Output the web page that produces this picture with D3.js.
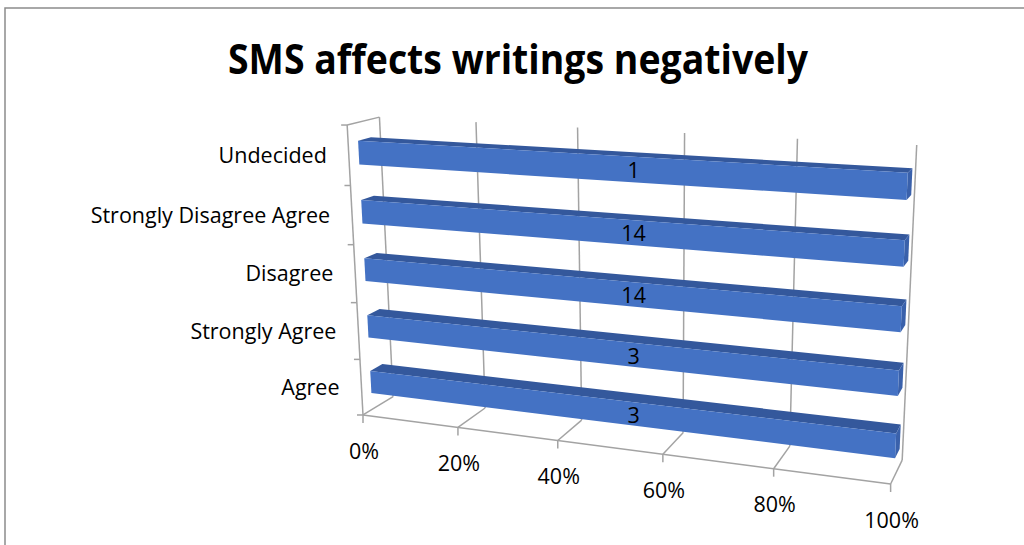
<html>
<head>
<meta charset="utf-8">
<style>
  body { margin: 0; background: #fff; }
  text { font-family: "Open Sans", Lato, "Liberation Sans", sans-serif; fill: #000; }
</style>
</head>
<body>
<svg id="chart" width="1024" height="545"></svg>
<script src="https://cdn.jsdelivr.net/npm/d3@7"></script>
<script>
// data (bottom to top, as Excel stacks the category axis)
const categories = ["Agree", "Strongly Agree", "Disagree", "Strongly Disagree Agree", "Undecided"];
const counts = [3, 3, 14, 14, 1];
const shares = [1, 1, 1, 1, 1]; // 100% stacked with one series: every bar fills the axis
const xTicks = [0, 0.2, 0.4, 0.6, 0.8, 1];

// perspective box: unit cube corners (value, category, depth) -> screen
const anchors = [
  [0, 1, 0, 347, 125], [0, 0, 0, 363, 414], [0, 1, 1, 379, 117], [0, 0, 1, 393, 397],
  [1, 1, 1, 917, 145], [1, 0, 1, 902, 460], [1, 0, 0, 891, 483],
  [0.2, 0, 0, 458, 428], [0.4, 0, 0, 558, 441], [0.6, 0, 0, 662, 455], [0.8, 0, 0, 774, 469],
  [0.2, 1, 1, 477, 122], [0.4, 1, 1, 578, 127], [0.6, 1, 1, 684, 133], [0.8, 1, 1, 797, 139],
  [0, 0.2, 0, 360, 358], [0, 0.4, 0, 357, 303], [0, 0.6, 0, 354, 245], [0, 0.8, 0, 350, 186]
];

// fit a 3x4 camera matrix (DLT, least squares)
function fitCamera(pts) {
  const A = [], b = [];
  pts.forEach(([X, Y, Z, u0, v0]) => {
    const u = (u0 - 640) / 300, v = (v0 - 300) / 300;
    A.push([X, Y, Z, 1, 0, 0, 0, 0, -u * X, -u * Y, -u * Z]); b.push(u);
    A.push([0, 0, 0, 0, X, Y, Z, 1, -v * X, -v * Y, -v * Z]); b.push(v);
  });
  const n = 11;
  const M = d3.range(n).map(i => {
    const row = d3.range(n).map(j => d3.sum(A, r => r[i] * r[j]));
    row.push(d3.sum(A, (r, k) => r[i] * b[k]));
    return row;
  });
  for (let c = 0; c < n; c++) {
    let p = c;
    for (let r = c + 1; r < n; r++) if (Math.abs(M[r][c]) > Math.abs(M[p][c])) p = r;
    [M[c], M[p]] = [M[p], M[c]];
    for (let r = c + 1; r < n; r++) {
      const f = M[r][c] / M[c][c];
      for (let k = c; k <= n; k++) M[r][k] -= f * M[c][k];
    }
  }
  const x = new Array(n).fill(0);
  for (let r = n - 1; r >= 0; r--) {
    let s = M[r][n];
    for (let k = r + 1; k < n; k++) s -= M[r][k] * x[k];
    x[r] = s / M[r][r];
  }
  return x;
}
const cam = fitCamera(anchors);
function proj(X, Y, Z) {
  const w = cam[8] * X + cam[9] * Y + cam[10] * Z + 1;
  const u = (cam[0] * X + cam[1] * Y + cam[2] * Z + cam[3]) / w;
  const v = (cam[4] * X + cam[5] * Y + cam[6] * Z + cam[7]) / w;
  return [u * 300 + 640, v * 300 + 300];
}

const svg = d3.select("#chart");
const x = d3.scaleLinear().domain([0, 1]).range([0, 1]);
const y = d3.scaleBand().domain(categories).range([0, 1]).paddingInner(0.6).paddingOuter(0.3);
const zFront = 0.3, zBack = 0.7;
const line = d3.line();
const poly = pts => line(pts.map(p => proj(...p))) + "Z";
const gridColor = "#a3a3a3";
const fontSize = 21.5;

// chart area border
svg.append("path").attr("d", "M5,545V8H1024").attr("fill", "none")
  .attr("stroke", "#8c8c8c").attr("stroke-width", 1.5);

svg.append("text").attr("x", 518).attr("y", 74).attr("text-anchor", "middle")
  .attr("font-family", "Lato, 'Open Sans', sans-serif")
  .attr("font-size", 41).attr("font-weight", "bold")
  .attr("textLength", 580).attr("lengthAdjust", "spacingAndGlyphs")
  .text("SMS affects writings negatively");

// walls and gridlines
const grid = svg.append("g").attr("fill", "none").attr("stroke", gridColor).attr("stroke-width", 1.5);
xTicks.forEach(t => {
  grid.append("path").attr("d", line([proj(x(t), 0, 1), proj(x(t), 1, 1)]));
  grid.append("path").attr("d", line([proj(x(t), 0, 0), proj(x(t), 0, 1)]));
});
grid.append("path").attr("d", line([proj(0, 1, 0), proj(0, 1, 1)]));
grid.append("path").attr("d", line([proj(0, 0, 0), proj(0, 1, 0)]));
grid.append("path").attr("d", line([proj(0, 0, 0), proj(1, 0, 0)]));

// category axis ticks and labels
d3.range(categories.length + 1).forEach(i => {
  const [px, py] = proj(0, i / categories.length, 0);
  grid.append("path").attr("d", line([[px - 6, py], [px, py]]));
});
svg.append("g").selectAll("text").data(categories).join("text")
  .attr("x", d => proj(0, y(d) + y.bandwidth() / 2, 0)[0] - 22)
  .attr("y", d => proj(0, y(d) + y.bandwidth() / 2, 0)[1])
  .attr("dy", "0.35em").attr("text-anchor", "end").attr("font-size", fontSize)
  .text(d => d);

// value axis ticks and labels
xTicks.forEach(t => {
  const [px, py] = proj(x(t), 0, 0);
  grid.append("path").attr("d", line([[px, py], [px, py + 8]]));
});
svg.append("g").selectAll("text").data(xTicks).join("text")
  .attr("x", t => proj(x(t), 0, 0)[0] + 1)
  .attr("y", t => proj(x(t), 0, 0)[1] + 36)
  .attr("dy", "0.35em").attr("text-anchor", "middle").attr("font-size", fontSize)
  .text(d3.format(".0%"));

// bars (bottom first so upper bars paint over)
const bars = svg.append("g");
const faceCenter = (c, i) => {
  const a = proj(0, y(c), zFront), b = proj(x(shares[i]), y(c) + y.bandwidth(), zFront);
  return [(a[0] + b[0]) / 2, (a[1] + b[1]) / 2];
};
categories.forEach((c, i) => {
  const y0 = y(c), y1 = y(c) + y.bandwidth(), x1 = x(shares[i]);
  const g = bars.append("g");
  g.append("path").attr("fill", "#34589c")
    .attr("d", poly([[0, y1, zFront], [x1, y1, zFront], [x1, y1, zBack], [0, y1, zBack]]));
  g.append("path").attr("fill", "#3a61ab")
    .attr("d", poly([[x1, y0, zFront], [x1, y0, zBack], [x1, y1, zBack], [x1, y1, zFront]]));
  g.append("path").attr("fill", "#4472c4")
    .attr("d", poly([[0, y0, zFront], [x1, y0, zFront], [x1, y1, zFront], [0, y1, zFront]]));
});

svg.append("g").selectAll("text").data(categories).join("text")
  .attr("x", (d, i) => faceCenter(d, i)[0])
  .attr("y", (d, i) => faceCenter(d, i)[1] + 2)
  .attr("dy", "0.35em").attr("text-anchor", "middle").attr("font-size", fontSize)
  .text((d, i) => counts[i]);
</script>
</body>
</html>
